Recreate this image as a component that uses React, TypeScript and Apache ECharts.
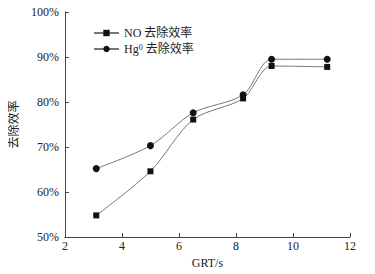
import React, { useEffect, useRef } from "react";
import * as echarts from "echarts";

const grt = [3.1, 5.0, 6.5, 8.25, 9.25, 11.2];
const noRemoval = [54.8, 64.6, 76.1, 80.8, 88.0, 87.8];
const hgRemoval = [65.2, 70.3, 77.6, 81.6, 89.5, 89.5];
const seriesNames = ["NO 去除效率", "Hg0 去除效率"];

const FONT = '"Liberation Serif", "Times New Roman", "Noto Sans CJK SC", serif';

export default function App() {
  const ref = useRef<HTMLDivElement>(null);
  useEffect(() => {
    const chart = echarts.init(ref.current!, undefined, { renderer: "svg" });
    const toPairs = (ys: number[]) => grt.map((x, i) => [x, ys[i]]);
    chart.setOption({
      animation: false,
      textStyle: { fontFamily: FONT, color: "#222" },
      grid: { left: 50, right: 25, top: 12, bottom: 37 },
      legend: {
        orient: "vertical",
        left: 93,
        top: 27,
        padding: 0,
        itemWidth: 25,
        itemHeight: 8,
        itemGap: 4,
        data: seriesNames,
        formatter: (name: string) =>
          name.startsWith("Hg0") ? "Hg{sup|0} 去除效率" : name,
        textStyle: {
          fontFamily: FONT,
          fontSize: 12,
          color: "#222",
          rich: {
            sup: { fontSize: 8, verticalAlign: "top", lineHeight: 10, padding: [0, 0, 6, 0], fontFamily: FONT },
          },
        },
      },
      xAxis: {
        type: "value",
        min: 2,
        max: 12,
        interval: 2,
        name: "GRT/s",
        nameLocation: "middle",
        nameGap: 17,
        nameTextStyle: { fontFamily: FONT, fontSize: 12, color: "#222" },
        axisLine: { show: true, onZero: false, lineStyle: { color: "#444", width: 1 } },
        axisTick: { show: true, inside: true, length: 4, lineStyle: { color: "#444" } },
        axisLabel: { fontFamily: FONT, fontSize: 12, color: "#222", margin: 3 },
        splitLine: { show: false },
      },
      yAxis: {
        type: "value",
        min: 50,
        max: 100,
        interval: 10,
        name: "去除效率",
        nameLocation: "middle",
        nameGap: 30,
        nameTextStyle: { fontFamily: FONT, fontSize: 12, color: "#222" },
        axisLine: { show: true, lineStyle: { color: "#444", width: 1 } },
        axisTick: { show: true, inside: true, length: 4, lineStyle: { color: "#444" } },
        axisLabel: { fontFamily: FONT, fontSize: 12, color: "#222", margin: 6, formatter: "{value}%" },
        splitLine: { show: false },
      },
      series: [
        {
          name: seriesNames[0],
          type: "line",
          data: toPairs(noRemoval),
          smooth: 0.3,
          symbol: "rect",
          symbolSize: 6,
          lineStyle: { color: "#777", width: 1 },
          itemStyle: { color: "#111" },
        },
        {
          name: seriesNames[1],
          type: "line",
          data: toPairs(hgRemoval),
          smooth: 0.3,
          symbol: "circle",
          symbolSize: 7,
          lineStyle: { color: "#777", width: 1 },
          itemStyle: { color: "#111" },
        },
      ],
    });
    return () => chart.dispose();
  }, []);
  return <div ref={ref} style={{ width: 375, height: 274, marginLeft: -8, marginTop: -8 }} />;
}
